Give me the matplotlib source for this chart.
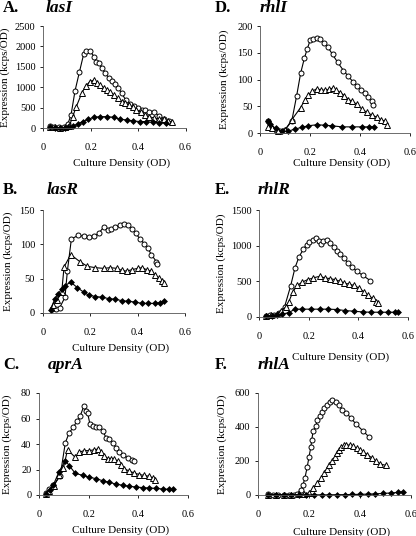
import matplotlib
matplotlib.use("Agg")
import matplotlib.pyplot as plt

plt.rcParams['font.family'] = ['Liberation Serif', 'DejaVu Serif']

# ---------------- data ----------------
# Panel A lasI
a_c_x = [0.028,0.046,0.066,0.086,0.103,0.117,0.134,0.152,0.170,0.182,0.197,0.214,0.223,0.234,0.248,0.262,0.276,0.290,0.303,0.317,0.331,0.348,0.366,0.383,0.400,0.417,0.430,0.448,0.466,0.49,0.51,0.53]
a_c_y = [57,25,25,40,100,325,920,1365,1805,1895,1895,1750,1625,1585,1465,1340,1235,1155,1075,975,855,690,600,545,500,440,445,405,400,300,230,180]
a_t_x = [0.03,0.05,0.07,0.09,0.11,0.124,0.138,0.163,0.179,0.196,0.214,0.228,0.241,0.255,0.269,0.283,0.297,0.314,0.331,0.345,0.361,0.379,0.393,0.411,0.428,0.448,0.469,0.49,0.51,0.527,0.545]
a_t_y = [30,20,15,20,60,285,510,870,1030,1140,1180,1100,1055,990,935,895,815,730,650,610,570,510,445,405,325,285,245,230,220,180,150]
a_d_x = [0.03,0.05,0.07,0.09,0.105,0.124,0.145,0.166,0.19,0.214,0.241,0.269,0.297,0.324,0.352,0.379,0.407,0.434,0.462,0.49,0.517]
a_d_y = [25,5,5,10,20,57,100,165,220,270,285,285,270,220,205,180,165,165,145,140,120]

# Panel B lasR
b_c_x = [0.039,0.056,0.072,0.094,0.104,0.121,0.150,0.174,0.197,0.215,0.236,0.257,0.275,0.289,0.306,0.326,0.344,0.358,0.375,0.392,0.410,0.428,0.444,0.458,0.479,0.483]
b_c_y = [6,6,8,23,61,108,113,112,110,112,116,125,121,123,125,128,129,128,123,116,108,101,94,85,75,71]
b_t_x = [0.042,0.06,0.08,0.09,0.118,0.156,0.188,0.222,0.257,0.285,0.313,0.333,0.354,0.375,0.40,0.42,0.438,0.455,0.472,0.489,0.503,0.511]
b_t_y = [11,19,30,67,85,75,68,66,65,66,65,62,61,63,65,66,63,61,56,51,46,44]
b_d_x = [0.035,0.05,0.065,0.08,0.095,0.118,0.146,0.174,0.194,0.222,0.25,0.278,0.306,0.333,0.361,0.389,0.417,0.444,0.472,0.493,0.511]
b_d_y = [5,20,28,35,40,45,37,30,26,24,23,21,20,18,17,16,14,14,14,15,17]

# Panel C aprA
c_c_x = [0.028,0.042,0.058,0.085,0.106,0.122,0.138,0.153,0.166,0.180,0.189,0.196,0.205,0.219,0.230,0.243,0.256,0.270,0.283,0.297,0.310,0.324,0.340,0.357,0.374,0.384]
c_c_y = [1.6,5,7.6,14.6,41,49,53,58,62,69.5,65.6,64,55.7,54,53,53,50.5,45,44,41,37,34,31.6,29,27.7,26.4]
c_t_x = [0.028,0.042,0.06,0.082,0.098,0.115,0.146,0.162,0.183,0.203,0.223,0.236,0.250,0.263,0.277,0.290,0.303,0.317,0.330,0.344,0.364,0.384,0.404,0.424,0.444,0.460,0.468]
c_t_y = [0.8,3,7,15.4,21,35.5,29.5,33.7,34.8,34.8,35.5,36,33.5,30.9,28.5,28.5,28.2,26.4,23.3,20.7,18.6,17.3,16,15.4,14.6,13.3,12]
c_d_x = [0.028,0.044,0.058,0.08,0.106,0.122,0.146,0.176,0.203,0.23,0.256,0.283,0.31,0.337,0.364,0.39,0.417,0.444,0.471,0.498,0.525,0.538]
c_d_y = [0.8,4.2,8,18,27,23,17,15.4,13.9,12.8,11.2,9.9,8.6,7.6,6.8,6.3,5.8,5.5,5.2,4.7,4.4,4.4]

# Panel D rhlI
d_c_x = [0.032,0.039,0.062,0.079,0.099,0.126,0.146,0.162,0.177,0.189,0.200,0.213,0.227,0.240,0.254,0.271,0.290,0.311,0.334,0.354,0.372,0.388,0.405,0.419,0.432,0.448,0.451]
d_c_y = [22,14,7,4,7,22,70,112,140,158,173,176,178,175,169,161,147,132,117,106,96,88,81,76,68,60,53]
d_t_x = [0.032,0.046,0.07,0.10,0.126,0.162,0.180,0.193,0.207,0.227,0.243,0.260,0.276,0.290,0.303,0.321,0.338,0.354,0.368,0.388,0.408,0.428,0.448,0.468,0.486,0.499,0.509]
d_t_y = [12,9,5,6,25,48,63,71,78,83,81,80,82,84,81,76,70,63,60,54,45,39,34,30,25,23,16]
d_d_x = [0.032,0.039,0.062,0.086,0.113,0.14,0.166,0.193,0.227,0.26,0.287,0.328,0.368,0.408,0.435,0.455]
d_d_y = [23,17,9,4,4,8,11,14,16,15,14,12,12,12,12,12]

# Panel E rhlR
e_c_x = [0.030,0.044,0.062,0.081,0.103,0.127,0.145,0.161,0.179,0.192,0.203,0.217,0.228,0.240,0.251,0.258,0.272,0.286,0.300,0.313,0.327,0.341,0.357,0.375,0.393,0.417,0.448]
e_c_y = [14,24,33,62,143,430,690,843,952,1014,1048,1081,1105,1071,1024,1062,1081,1033,986,929,881,833,762,700,643,586,510]
e_t_x = [0.030,0.048,0.072,0.09,0.109,0.12,0.137,0.154,0.175,0.196,0.219,0.244,0.265,0.286,0.306,0.327,0.343,0.361,0.382,0.403,0.421,0.437,0.458,0.472,0.481]
e_t_y = [14,24,48,90,143,214,357,443,490,524,548,571,548,538,524,500,476,462,443,405,357,310,262,214,190]
e_d_x = [0.030,0.051,0.072,0.092,0.12,0.145,0.175,0.21,0.244,0.279,0.313,0.348,0.382,0.417,0.451,0.486,0.52,0.548,0.561]
e_d_y = [10,14,24,38,62,110,110,110,110,110,105,90,81,71,67,67,67,67,67]

# Panel F rhlA
f_c_x = [0.04,0.06,0.08,0.10,0.12,0.14,0.153,0.167,0.176,0.184,0.193,0.200,0.207,0.211,0.216,0.227,0.233,0.243,0.251,0.260,0.269,0.283,0.291,0.304,0.317,0.331,0.347,0.364,0.384,0.411,0.437]
f_c_y = [6,2,2,2,2,2,6,31,57,100,165,224,280,325,375,408,439,463,488,512,531,547,557,545,527,502,482,453,418,378,339]
f_t_x = [0.04,0.07,0.10,0.13,0.16,0.18,0.20,0.216,0.233,0.247,0.260,0.269,0.280,0.291,0.300,0.309,0.317,0.327,0.336,0.347,0.360,0.373,0.387,0.400,0.413,0.429,0.447,0.464,0.480,0.500]
f_t_y = [2,2,2,2,3,6,12,41,71,100,129,153,178,202,222,247,267,282,292,296,292,286,276,267,253,237,218,198,182,175]
f_d_x = [0.04,0.07,0.10,0.13,0.16,0.19,0.22,0.25,0.28,0.31,0.34,0.37,0.40,0.43,0.46,0.49,0.52,0.55,0.57]
f_d_y = [2,1,1,1,1,1,1,1,1,2,2,3,4,5,7,9,12,15,20]

panels = [
    ("A.", "lasI", a_c_x, a_c_y, a_t_x, a_t_y, a_d_x, a_d_y, [0, 500, 1000, 1500, 2000, 2500]),
    ("B.", "lasR", b_c_x, b_c_y, b_t_x, b_t_y, b_d_x, b_d_y, [0, 50, 100, 150]),
    ("C.", "aprA", c_c_x, c_c_y, c_t_x, c_t_y, c_d_x, c_d_y, [0, 20, 40, 60, 80]),
    ("D.", "rhlI", d_c_x, d_c_y, d_t_x, d_t_y, d_d_x, d_d_y, [0, 50, 100, 150, 200]),
    ("E.", "rhlR", e_c_x, e_c_y, e_t_x, e_t_y, e_d_x, e_d_y, [0, 500, 1000, 1500]),
    ("F.", "rhlA", f_c_x, f_c_y, f_t_x, f_t_y, f_d_x, f_d_y, [0, 200, 400, 600]),
]
x_ticks = [0, 0.2, 0.4, 0.6]
x_tick_labels = ["0", "0.2", "0.4", "0.6"]

# ---------------- layout (pixels: left, right, top, bottom) ----------------
W, H = 416, 536
boxes = [
    (43.3, 185.5, 26, 128.3),
    (42.7, 185, 210, 313),
    (39, 188, 393, 495),
    (260.3, 409.7, 26, 133.3),
    (259, 408, 210, 317),
    (258, 411, 393, 495),
]
letter_pos = [(3, 8), (3, 190), (3, 365), (215, 8), (215, 190), (215, 365)]
gene_pos = [(46, 8), (47, 190), (48, 365), (260, 8), (258, 190), (258, 365)]
xlabel_y = [163, 348, 530, 163, 357, 532]
ylabel_x = [0, 3, 2, 219, 216, 217]

fig = plt.figure(figsize=(W / 100, H / 100), dpi=100)

for i, (letter, gene, cx, cy, tx, ty, dx, dy, yt) in enumerate(panels):
    l, r, t, b = boxes[i]
    ax = fig.add_axes([l / W, 1 - b / H, (r - l) / W, (b - t) / H])
    ax.plot(cx, cy, '-', color='black', lw=0.8, marker='o', ms=3.6,
            mfc='white', mec='black', mew=0.7, clip_on=False)
    ax.plot(tx, ty, '-', color='black', lw=0.8, marker='^', ms=4.0,
            mfc='white', mec='black', mew=0.7, clip_on=False)
    ax.plot(dx, dy, '-', color='black', lw=0.8, marker='D', ms=3.0,
            mfc='black', mec='black', mew=0.5, clip_on=False)
    ax.set_xlim(0, 0.6)
    ax.set_ylim(0, yt[-1])
    ax.set_xticks(x_ticks)
    ax.set_xticklabels(x_tick_labels)
    ax.set_yticks(yt)
    ax.spines['top'].set_visible(False)
    ax.spines['right'].set_visible(False)
    for s in ('left', 'bottom'):
        ax.spines[s].set_linewidth(0.6)
        ax.spines[s].set_color('#555555')
    ax.tick_params(direction='out', length=2.5, width=0.6, labelsize=7.5,
                   pad=3, colors='black')
    ax.tick_params(axis='x', pad=8)
    # labels
    fig.text(((l + r) / 2 + 7) / W, 1 - xlabel_y[i] / H, "Culture Density (OD)",
             ha='center', va='center', fontsize=8)
    fig.text(ylabel_x[i] / W, 1 - ((t + b) / 2) / H, "Expression (kcps/OD)",
             ha='left', va='center', rotation=90, fontsize=8)
    fig.text(letter_pos[i][0] / W, 1 - letter_pos[i][1] / H, letter,
             ha='left', va='center', fontsize=12, fontweight='bold')
    fig.text(gene_pos[i][0] / W, 1 - gene_pos[i][1] / H, gene,
             ha='left', va='center', fontsize=12.5, fontweight='bold',
             fontstyle='italic')

fig.savefig("out.png", dpi=100)
